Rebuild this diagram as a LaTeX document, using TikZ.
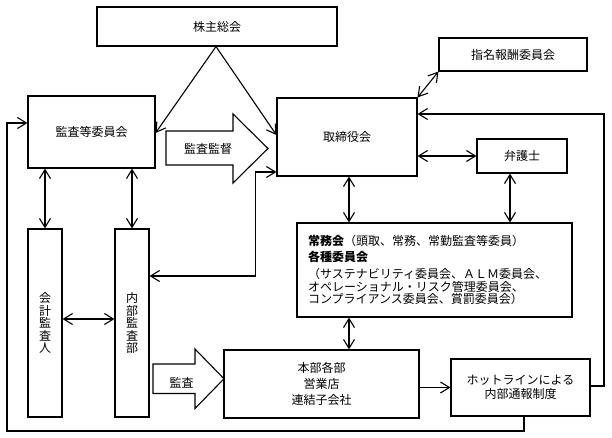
\documentclass[tikz,border=0pt]{standalone}
\usepackage{fontspec}
\setmainfont{Noto Sans CJK JP}
\usetikzlibrary{arrows.meta}

\begin{document}
\begin{tikzpicture}[x=1pt, y=-1pt, line width=1.1pt, font=\fontsize{12}{14}\selectfont,
    mybox/.style={draw, rectangle, inner sep=2pt, align=center},
    vbox/.style={mybox, minimum width=34, minimum height=188, font=\fontsize{12}{12.5}\selectfont},
    arr/.style={-{Straight Barb[length=9pt,width=11pt]}},
    dbl/.style={{Straight Barb[length=9pt,width=11pt]}-{Straight Barb[length=9pt,width=11pt]}}]
    \useasboundingbox (0,0) rectangle (612,438);
    % boxes
    \node[mybox, minimum width=240, minimum height=39] (share) at (217,26.5) {株主総会};
    \node[mybox, minimum width=127, minimum height=72] (audit) at (91.5,132) {監査等委員会};
    \node[mybox, minimum width=140, minimum height=78] (board) at (347,137) {取締役会};
    \node[mybox, minimum width=148, minimum height=33] (nomin) at (513,54.5) {指名報酬委員会};
    \node[mybox, minimum width=90, minimum height=34] (lawyer) at (522,156) {弁護士};
    \node[mybox, align=left, text width=253, inner xsep=11, minimum height=94] (exec) at (434.5,270)
      {{\bfseries 常務会}（頭取、常務、常勤監査等委員）\\[2pt]
       {\bfseries 各種委員会}\\[3pt]
       （サステナビリティ委員会、ＡＬＭ委員会、\\[-1.5pt]
       オペレーショナル・リスク管理委員会、\\[-1.5pt]
       コンプライアンス委員会、賞罰委員会）};
    \node[vbox] (acct) at (45,323) {会\\計\\監\\査\\人};
    \node[vbox] (internal) at (132,323) {内\\部\\監\\査\\部};
    \node[mybox, minimum width=195, minimum height=68, font=\fontsize{12}{16}\selectfont] (hq) at (321.5,384) {本部各部\\営業店\\連結子会社};
    \node[mybox, minimum width=139, minimum height=57, font=\fontsize{12}{13.5}\selectfont] (hotline) at (520.5,387.5) {ホットラインによる\\内部通報制度};
    % block arrows
    \draw (166,131) -- (233,131) -- (233,114) -- (268,148.5) -- (233,183) -- (233,165) -- (166,165) -- cycle;
    \node (supvText) at (208,149) {監査監督};
    \draw (153,364) -- (195,364) -- (195,349) -- (224,378.8) -- (195,408.5) -- (195,393.5) -- (153,393.5) -- cycle;
    \node (checkText) at (181.5,383) {監査};
    % connectors
    \draw[arr] ([xshift=-1pt]share.south) -- ([yshift=-1pt]audit.east);
    \draw[arr] ([xshift=-1pt]share.south) -- ([yshift=2pt]board.west);
    \draw[dbl] (acct.north) -- (acct.north |- audit.south);
    \draw[dbl] (internal.north) -- (internal.north |- audit.south);
    \draw[dbl] ([yshift=4pt]acct.east) -- ([yshift=4pt]internal.west);
    \draw[dbl] ([yshift=-35pt]board.west) -- ++(-21,0) |- ([yshift=47pt]internal.east);
    \draw[dbl] (nomin.south west) -- (board.north east);
    \draw[dbl] (board.east |- lawyer.west) -- (lawyer.west);
    \draw[dbl] ([xshift=2pt]board.south) -- ([xshift=2pt]board.south |- exec.north);
    \draw[dbl] ([xshift=-12pt]lawyer.south) -- ([xshift=-12pt]lawyer.south |- exec.north);
    \draw[dbl] ([xshift=2pt]board.south |- exec.south) -- ([xshift=2pt]board.south |- hq.north);
    \draw[arr] (hq.east |- hotline.west) -- (hotline.west);
    \draw[arr] ([yshift=1.5pt]hotline.east) -| (604,250) |- ([yshift=23pt]board.east);
    \draw[arr] ([xshift=3.5pt]hotline.south) |- (7,431) |- ([yshift=9pt]audit.west);
\end{tikzpicture}
\end{document}
